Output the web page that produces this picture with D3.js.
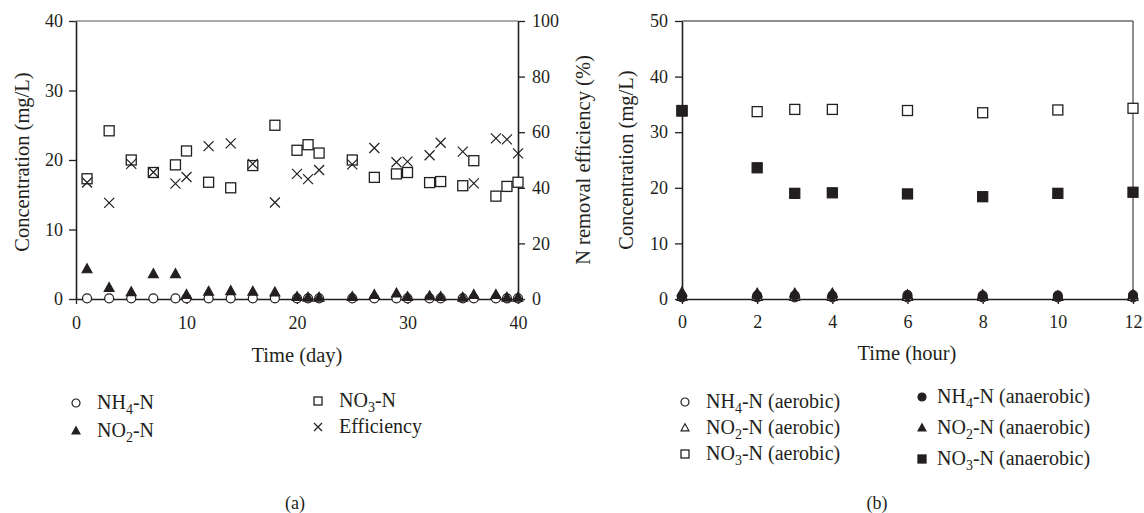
<html>
<head>
<script src="https://d3js.org/d3.v7.min.js"></script>
<style>
body { margin: 0; background: #fff; }
svg { display: block; }
text { font-family: "Liberation Serif", "Times New Roman", serif; fill: #231f20; }
.axis path, .axis line { stroke: #231f20; }
</style>
</head>
<body>
<div id="chart"></div>
<script>

// panel (a): operation over 40 days
var daysA = [1, 3, 5, 7, 9, 10, 12, 14, 16, 18, 20, 21, 22, 25, 27, 29, 30, 32, 33, 35, 36, 38, 39, 40];
var nh4A = [0.1, 0.1, 0.1, 0.1, 0.1, 0.1, 0.1, 0.1, 0.1, 0.1, 0.1, 0.1, 0.1, 0.1, 0.1, 0.1, 0.1, 0.1, 0.1, 0.1, 0.1, 0.1, 0.1, 0.1];
var no2A = [4.3, 1.6, 1.0, 3.6, 3.6, 0.6, 1.05, 1.15, 1.05, 0.95, 0.3, 0.2, 0.2, 0.3, 0.6, 0.8, 0.3, 0.4, 0.3, 0.2, 0.6, 0.6, 0.2, 0.2];
var no3A = [17.3, 24.2, 20.0, 18.2, 19.3, 21.3, 16.8, 16.0, 19.2, 25.0, 21.4, 22.2, 21.0, 20.0, 17.5, 18.0, 18.2, 16.75, 16.9, 16.3, 19.9, 14.8, 16.2, 16.8];
var effA = [41.9, 34.6, 48.6, 45.6, 41.5, 43.9, 55.0, 56.0, 48.6, 34.7, 45.0, 43.1, 46.4, 48.4, 54.3, 49.2, 49.4, 51.7, 56.2, 53.0, 41.6, 57.8, 57.4, 52.4];
var ticksA = [0, 10, 20, 30, 40];
var ticksEff = [0, 20, 40, 60, 80, 100];

// panel (b): one 12 hour cycle
var hoursB = [0, 2, 3, 4, 6, 8, 10, 12];
var nh4Aer = [0.3, 0.3, 0.3, 0.3, 0.3, 0.3, 0.3, 0.3];
var no2Aer = [0.4, 0.4, 0.4, 0.4, 0.4, 0.4, 0.4, 0.4];
var no3Aer = [33.9, 33.7, 34.1, 34.1, 33.9, 33.5, 34.0, 34.3];
var nh4Ana = [0.5, 0.6, 0.6, 0.6, 0.7, 0.6, 0.6, 0.7];
var no2Ana = [1.2, 1.0, 1.0, 1.0, 0.7, 0.7, 0.5, 0.7];
var no3Ana = [33.8, 23.6, 19.0, 19.1, 18.9, 18.4, 19.0, 19.2];
var ticksHour = [0, 2, 4, 6, 8, 10, 12];
var ticksB = [0, 10, 20, 30, 40, 50];

var ink = "#231f20";
var width = 1144, height = 513;
var tickFont = 18, titleFont = 20.5, legendFont = 20;

var svg = d3.select("#chart").append("svg")
  .attr("width", width).attr("height", height);

// marker drawing helpers, centred on (0,0)
function marker(g, type, size, filled) {
  var fill = filled ? ink : "#fff";
  var s = size;
  if (type === "circle") {
    g.append("circle").attr("r", s / 2).attr("fill", fill).attr("stroke", ink).attr("stroke-width", 1.2);
  } else if (type === "square") {
    g.append("rect").attr("x", -s / 2).attr("y", -s / 2).attr("width", s).attr("height", s)
      .attr("fill", fill).attr("stroke", ink).attr("stroke-width", 1.3);
  } else if (type === "triangle") {
    var h = s * 0.9;
    g.append("path").attr("d", "M0," + (-h * 0.6) + "L" + (s / 2) + "," + (h * 0.4) + "L" + (-s / 2) + "," + (h * 0.4) + "Z")
      .attr("fill", fill).attr("stroke", ink).attr("stroke-width", 1.1).attr("stroke-linejoin", "miter");
  } else if (type === "cross") {
    var c = s / 2;
    g.append("path").attr("d", "M" + -c + "," + -c + "L" + c + "," + c + "M" + c + "," + -c + "L" + -c + "," + c)
      .attr("stroke", ink).attr("stroke-width", 1.2).attr("fill", "none");
  }
}

function scatter(xs, ys, xScale, yScale, type, size, filled) {
  var pts = xs.map(function (d, i) { return { x: d, y: ys[i] }; });
  svg.append("g").selectAll("g").data(pts).enter().append("g")
    .attr("transform", function (d) { return "translate(" + xScale(d.x) + "," + yScale(d.y) + ")"; })
    .each(function () { marker(d3.select(this), type, size, filled); });
}

function styleAxis(g) {
  g.attr("class", "axis");
  g.selectAll("path").attr("stroke-width", 1.6);
  g.selectAll("line").attr("stroke-width", 1.3);
  g.selectAll("text").attr("font-size", tickFont).attr("fill", ink)
    .style("font-family", "'Liberation Serif', serif");
}

// legend text with a subscript number, e.g. NH4-N
function legendText(x, y, pre, sub, post, size) {
  var t = svg.append("text").attr("x", x).attr("y", y).attr("font-size", size);
  t.append("tspan").text(pre);
  t.append("tspan").text(sub).attr("font-size", size * 0.7).attr("dy", 5);
  t.append("tspan").text(post).attr("dy", -5);
}

// ---------- panel (a) ----------
var xA = d3.scaleLinear().domain([0, 40]).range([76, 518]);
var yA = d3.scaleLinear().domain([0, 40]).range([299, 21]);
var yE = d3.scaleLinear().domain([0, 100]).range([299, 21]);

svg.append("line").attr("x1", xA(0)).attr("x2", xA(40)).attr("y1", yA(40)).attr("y2", yA(40))
  .attr("stroke", "#555").attr("stroke-width", 1);

svg.append("g").attr("transform", "translate(0,299)")
  .call(d3.axisBottom(xA).tickValues(ticksA).tickSize(5).tickSizeOuter(0).tickPadding(12))
  .call(styleAxis);
svg.append("g").attr("transform", "translate(76,0)")
  .call(d3.axisLeft(yA).tickValues(ticksA).tickSize(7).tickSizeOuter(0).tickPadding(6))
  .call(styleAxis);
svg.append("g").attr("transform", "translate(518,0)")
  .call(d3.axisRight(yE).tickValues(ticksEff).tickSize(7).tickSizeOuter(0).tickPadding(7))
  .call(styleAxis);

scatter(daysA, no3A, xA, yA, "square", 10, false);
scatter(daysA, effA, xA, yE, "cross", 10, false);
scatter(daysA, nh4A, xA, yA, "circle", 9, false);
scatter(daysA, no2A, xA, yA, "triangle", 10, true);

svg.append("text").attr("x", 297).attr("y", 362).attr("text-anchor", "middle")
  .attr("font-size", titleFont).text("Time (day)");
svg.append("text").attr("transform", "translate(22,162) rotate(-90)").attr("dy", "0.35em")
  .attr("text-anchor", "middle").attr("font-size", titleFont).text("Concentration (mg/L)");
svg.append("text").attr("transform", "translate(583,160) rotate(-90)").attr("dy", "0.35em")
  .attr("text-anchor", "middle").attr("font-size", titleFont).text("N removal efficiency (%)");

// legend (a)
[[76, 403, "circle", false, "NH", "4", "-N"], [76, 431, "triangle", true, "NO", "2", "-N"],
 [318, 401, "square", false, "NO", "3", "-N"]].forEach(function (r) {
  var g = svg.append("g").attr("transform", "translate(" + r[0] + "," + r[1] + ")");
  marker(g, r[2], 8, r[3]);
  legendText(r[0] + 21, r[1] + 6, r[4], r[5], r[6], legendFont);
});
var ge = svg.append("g").attr("transform", "translate(318,427)");
marker(ge, "cross", 8, false);
svg.append("text").attr("x", 339).attr("y", 433).attr("font-size", legendFont).text("Efficiency");

svg.append("text").attr("x", 295).attr("y", 509).attr("text-anchor", "middle").attr("font-size", tickFont).text("(a)");

// ---------- panel (b) ----------
var xB = d3.scaleLinear().domain([0, 12]).range([682, 1133]);
var yB = d3.scaleLinear().domain([0, 50]).range([299, 21]);

svg.append("line").attr("x1", xB(0)).attr("x2", xB(12)).attr("y1", yB(50)).attr("y2", yB(50))
  .attr("stroke", ink).attr("stroke-width", 1);
svg.append("line").attr("x1", xB(12)).attr("x2", xB(12)).attr("y1", yB(50)).attr("y2", yB(0))
  .attr("stroke", ink).attr("stroke-width", 1);

svg.append("g").attr("transform", "translate(0,299)")
  .call(d3.axisBottom(xB).tickValues(ticksHour).tickSize(5).tickSizeOuter(0).tickPadding(11))
  .call(styleAxis);
svg.append("g").attr("transform", "translate(682,0)")
  .call(d3.axisLeft(yB).tickValues(ticksB).tickSize(7).tickSizeOuter(0).tickPadding(7))
  .call(styleAxis);

scatter(hoursB, no3Aer, xB, yB, "square", 10, false);
scatter(hoursB, nh4Aer, xB, yB, "circle", 9, false);
scatter(hoursB, no2Aer, xB, yB, "triangle", 10, false);
scatter(hoursB, no3Ana, xB, yB, "square", 10, true);
scatter(hoursB, no2Ana, xB, yB, "triangle", 10, true);
scatter(hoursB, nh4Ana, xB, yB, "circle", 9, true);

svg.append("text").attr("x", 907).attr("y", 360).attr("text-anchor", "middle")
  .attr("font-size", titleFont).text("Time (hour)");
svg.append("text").attr("transform", "translate(626,160) rotate(-90)").attr("dy", "0.35em")
  .attr("text-anchor", "middle").attr("font-size", titleFont).text("Concentration (mg/L)");

// legend (b)
[[685, 402, "circle", false, "NH", "4", "-N (aerobic)"],
 [685, 428, "triangle", false, "NO", "2", "-N (aerobic)"],
 [685, 454, "square", false, "NO", "3", "-N (aerobic)"],
 [922, 397, "circle", true, "NH", "4", "-N (anaerobic)"],
 [922, 428, "triangle", true, "NO", "2", "-N (anaerobic)"],
 [922, 459, "square", true, "NO", "3", "-N (anaerobic)"]].forEach(function (r) {
  var g = svg.append("g").attr("transform", "translate(" + r[0] + "," + r[1] + ")");
  marker(g, r[2], 8, r[3]);
  legendText(r[0] + (r[3] ? 15 : 21), r[1] + 6, r[4], r[5], r[6], legendFont);
});

svg.append("text").attr("x", 877).attr("y", 509).attr("text-anchor", "middle").attr("font-size", tickFont).text("(b)");

</script>
</body>
</html>
